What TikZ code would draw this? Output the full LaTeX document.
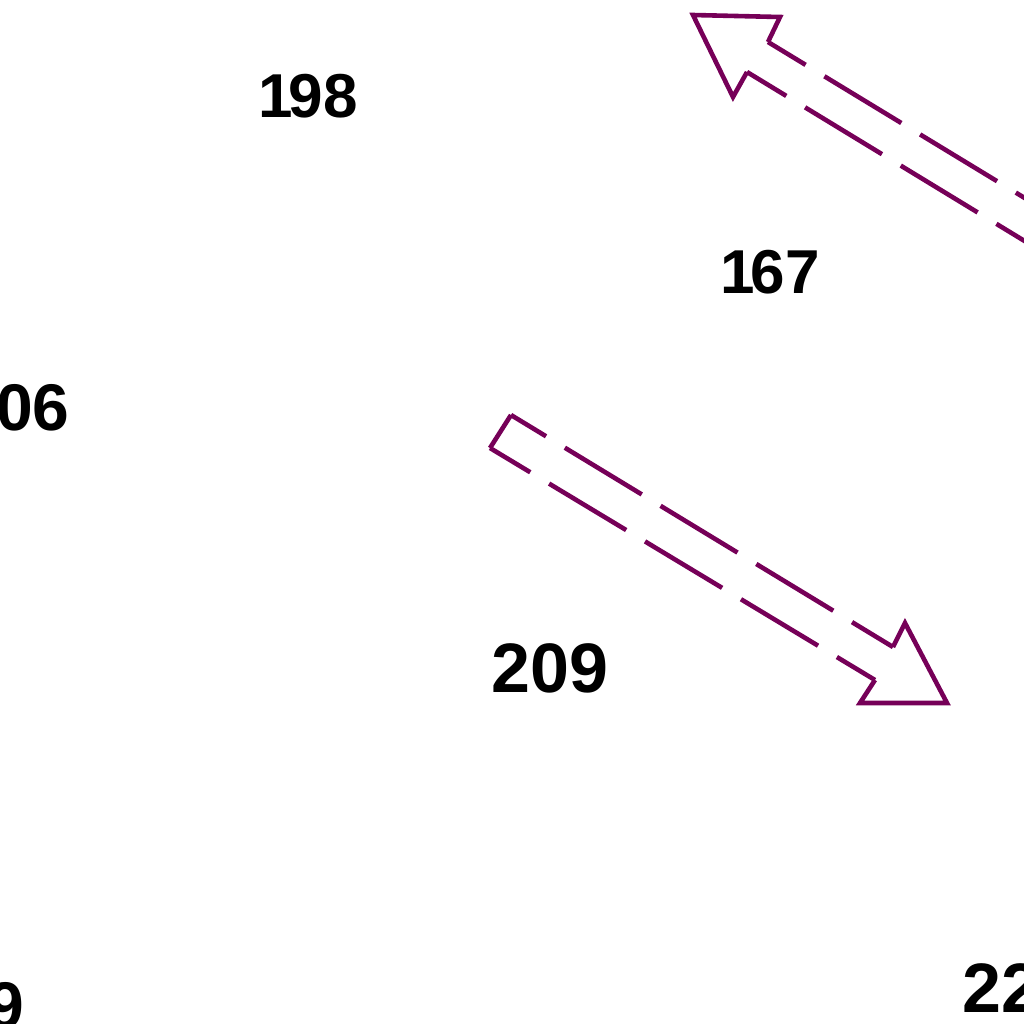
\documentclass[tikz,border=0pt]{standalone}
\usepackage{fontspec}
\setmainfont{Liberation Sans}
\definecolor{arrowc}{RGB}{118,0,88}
\begin{document}
\begin{tikzpicture}[x=0.5pt,y=-0.5pt,
  shaft/.style={draw=arrowc,line width=2.3pt,dash pattern=on 45pt off 11pt},
  outline/.style={draw=arrowc,line width=2.3pt,line join=miter},
  lab/.style={inner sep=0pt,font=\bfseries\fontsize{#1}{#1}\selectfont},
  lab/.default=33pt]
\useasboundingbox (0,0) rectangle (1024,1024);
\clip (0,0) rectangle (1024,1024);

% labels
\node[lab=31pt] (l198) at (308,96) {1\kern-2pt98};
\node[lab=31pt] (l167) at (770,272) {1\kern-2pt67};
\node[lab=33pt,anchor=east] (l206) at (70,408) {06};
\node[lab=35pt] (l209) at (550,668) {209};
\node[lab=33pt,anchor=east] (l9) at (25,1006) {9};
\node[lab=35pt,anchor=west] (l22) at (962,988) {22};

% upper arrow (pointing up-left)
\coordinate (a1tip) at (693,15);
\coordinate (a1r) at (780,17);
\coordinate (a1l) at (733,97);
\coordinate (a1u) at (768,42);
\coordinate (a1d) at (747,72);
\coordinate (a1ue) at (1130,262);
\coordinate (a1de) at (1110,293);
\draw[outline] (a1u) -- (a1r) -- (a1tip) -- (a1l) -- (a1d);
\draw[shaft,dash phase=23pt] (a1u) -- (a1ue);
\draw[shaft,dash phase=22pt] (a1d) -- (a1de);

% lower arrow (pointing down-right)
\coordinate (a2t1) at (511,415);
\coordinate (a2t2) at (490,448);
\coordinate (a2u) at (893,647);
\coordinate (a2apex) at (905,623);
\coordinate (a2tip) at (947,703);
\coordinate (a2bl) at (860,703);
\coordinate (a2d) at (875,680);
\draw[outline] (a2t1) -- (a2t2);
\draw[shaft,dash phase=24.5pt] (a2t1) -- (a2u);
\draw[shaft,dash phase=21.5pt] (a2t2) -- (a2d);
\draw[outline] (a2u) -- (a2apex) -- (a2tip) -- (a2bl) -- (a2d);
\end{tikzpicture}
\end{document}
